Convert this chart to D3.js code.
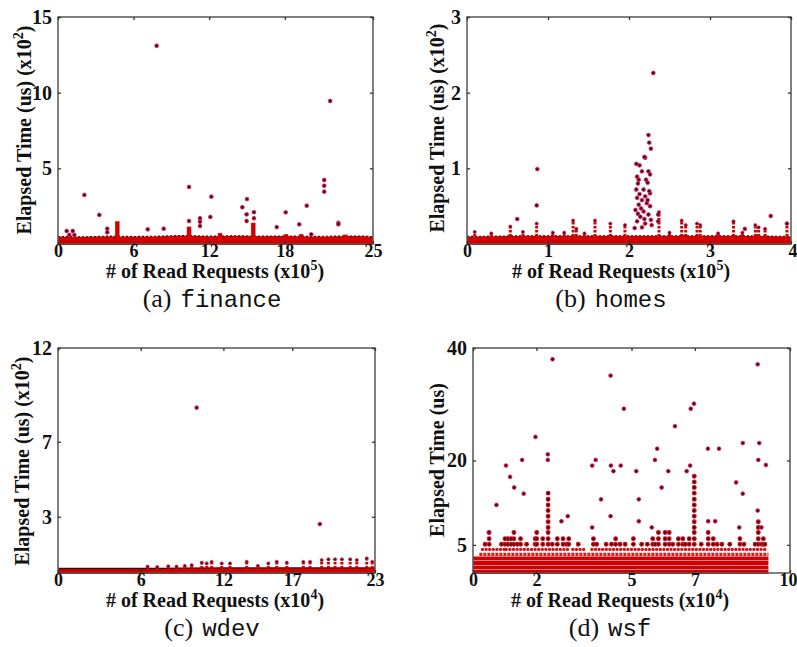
<!DOCTYPE html>
<html><head><meta charset="utf-8">
<script src="https://cdn.jsdelivr.net/npm/d3@7"></script>
<style>body{margin:0;background:#fff}svg{display:block}</style>
</head><body><svg id="c" width="797" height="647"></svg>
<script>
// ---------------- DATA ----------------
const panelNames = ["finance", "homes", "wdev", "wsf"];
const panelLetters = ["(a)", "(b)", "(c)", "(d)"];
const xLabelText = "# of Read Requests";
const yLabelText = "Elapsed Time (us)";
const xExponents = ["5", "5", "4", "4"];
const yExponents = ["2", "2", "2", null];

const xTicksFinance = [0, 6, 12, 18, 25];
const yTicksFinance = [5, 10, 15];
const xTicksHomes = [0, 1, 2, 3, 4];
const yTicksHomes = [1, 2, 3];
const xTicksWdev = [0, 6, 12, 17, 23];
const yTicksWdev = [3, 7, 12];
const xTicksWsf = [0, 2, 5, 7, 10];
const yTicksWsf = [5, 20, 40];

// finance (x10^5 requests, x10^2 us)
const financeBandX = [0, 2, 4, 6, 8, 10, 12, 14, 16, 18, 20, 22, 24, 25];
const financeBandTop = [0.50, 0.48, 0.52, 0.50, 0.52, 0.56, 0.52, 0.54, 0.52, 0.53, 0.50, 0.52, 0.53, 0.48];
const financeSpikes = [[4.71, 1.5], [10.4, 1.15], [12.86, 0.72], [15.5, 1.4], [18.1, 0.65], [19.3, 0.65], [22.8, 0.62]];
const financeOutliers = [[7.83, 13.1], [21.6, 9.45], [2.09, 3.24], [10.4, 3.77], [12.17, 3.13], [15.0, 2.97],
  [14.63, 2.43], [14.97, 1.96], [14.97, 1.52], [15.55, 2.1], [15.55, 1.7], [12.09, 1.79], [19.74, 2.53],
  [18.07, 2.09], [21.13, 4.23], [21.13, 3.85], [21.13, 3.46], [3.28, 1.92], [3.91, 1.01], [3.91, 0.77],
  [10.4, 1.52], [11.27, 1.7], [11.27, 1.47], [11.27, 1.19], [7.12, 0.97], [8.39, 1.01], [17.36, 1.12],
  [19.15, 1.3], [22.25, 1.4], [22.25, 1.3], [0.69, 0.86], [1.17, 0.86], [20.1, 0.64], [0.9, 0.6], [1.3, 0.6]];

// homes (x10^5 requests, x10^2 us)
const homesBandX = [0, 1, 2, 3, 4];
const homesBandTop = [0.10, 0.11, 0.11, 0.11, 0.10];
const homesStacks = [[0.095, 0.16], [0.3, 0.14], [0.535, 0.23], [0.69, 0.16], [0.86, 0.27], [1.06, 0.15],
  [1.2, 0.15], [1.31, 0.31], [1.35, 0.2], [1.45, 0.14], [1.58, 0.31], [1.77, 0.27], [1.95, 0.25], [2.37, 0.42],
  [2.5, 0.15], [2.65, 0.31], [2.7, 0.25], [2.84, 0.27], [2.88, 0.25], [3.1, 0.14], [3.29, 0.30], [3.4, 0.15],
  [3.56, 0.25], [3.6, 0.22], [3.68, 0.2], [3.95, 0.27]];
const homesOutliers = [[2.30, 2.26], [0.868, 0.99], [0.86, 0.51], [0.62, 0.33], [2.24, 1.44], [2.25, 1.34],
  [2.27, 1.26], [2.2, 1.14], [3.75, 0.37], [3.95, 0.27], [3.43, 0.2],
  [2.09, 1.06], [2.13, 1.04], [2.19, 1.15], [2.16, 0.96], [2.24, 0.96], [2.26, 0.92], [2.10, 0.89], [2.21, 0.85],
  [2.11, 0.80], [2.23, 0.81], [2.12, 0.85], [2.09, 0.72], [2.18, 0.72], [2.26, 0.67], [2.10, 0.61], [2.16, 0.58],
  [2.12, 0.52], [2.22, 0.54], [2.26, 0.50], [2.08, 0.45], [2.18, 0.43], [2.14, 0.36], [2.24, 0.39], [2.10, 0.30],
  [2.20, 0.27], [2.28, 0.25], [2.16, 0.22], [2.36, 0.39], [2.36, 0.30], [2.07, 0.21], [2.13, 0.66], [2.20, 0.63],
  [2.15, 0.47], [2.25, 0.70], [2.11, 0.40], [2.27, 0.32], [2.19, 0.33], [2.23, 0.58]];

// wdev (x10^4 requests, x10^2 us)
const wdevBandX = [0, 6, 9, 12, 17, 23];
const wdevBandTop = [0.24, 0.24, 0.26, 0.27, 0.27, 0.27];
const wdevStacks = [[6.5, 0.34], [7.2, 0.32], [8.0, 0.36], [8.6, 0.34], [9.2, 0.38], [9.7, 0.42], [10.43, 0.55],
  [10.79, 0.51], [11.15, 0.59], [11.88, 0.51], [12.48, 0.51], [13.69, 0.60], [14.5, 0.38], [15.26, 0.51],
  [15.87, 0.60], [16.6, 0.55], [17.8, 0.59], [18.29, 0.60], [19.13, 0.69], [19.62, 0.73], [20.1, 0.73],
  [20.6, 0.73], [21.2, 0.73], [21.68, 0.69], [22.4, 0.78], [22.8, 0.6]];
const wdevOutliers = [[10.06, 8.82], [19.0, 2.61]];

// wsf (x10^4 requests, us)
const wsfSolidRows = [0.2, 1.0, 1.8, 2.6];
const wsfLightRow = 3.3;
const wsfRowExtent = [0, 9.32];
const wsfRow4 = 4.2;
const wsfRow4Segments = [[0.3, 1.0], [1.05, 3.05], [3.15, 3.55], [3.75, 9.25]];
const wsfLevels = [5.1, 6.1, 7.2, 8.1, 9.1, 10.1, 11.1, 12.1, 13.1, 14.2, 15.2, 16.2, 17.2];
const wsfStacks = [[0.38, 5.1], [0.51, 7.2], [0.9, 5.1], [1.01, 6.1], [1.1, 6.1], [1.2, 6.1], [1.29, 7.2],
  [1.4, 5.1], [1.5, 6.1], [1.69, 5.1], [1.96, 6.1], [2.01, 7.2], [2.2, 6.1], [2.37, 14.2], [2.5, 5.1],
  [2.66, 6.1], [2.84, 6.1], [2.95, 5.1], [3.02, 6.1], [3.32, 5.1], [3.8, 6.1], [3.9, 5.1], [4.2, 5.1],
  [4.37, 5.1], [4.5, 6.1], [4.64, 5.1], [4.8, 5.1], [5.06, 6.1], [5.32, 5.1], [5.5, 5.1], [5.67, 6.1],
  [5.75, 5.1], [5.85, 7.2], [6.06, 7.2], [6.19, 7.2], [6.3, 5.1], [6.48, 6.1], [6.62, 6.1], [6.7, 5.1],
  [6.82, 6.1], [6.98, 17.2], [7.2, 5.1], [7.42, 7.2], [7.58, 6.1], [7.7, 5.1], [7.85, 5.1], [8.1, 5.1],
  [8.42, 6.1], [8.55, 5.1], [8.9, 5.1], [9.0, 9.1], [9.1, 5.1], [9.16, 6.1], [9.21, 5.1]];
const wsfOutliers = [[2.51, 38.0], [4.34, 35.1], [8.98, 37.1], [4.76, 29.2], [6.97, 30.1], [6.87, 29.2],
  [6.37, 26.1], [1.97, 24.2], [2.36, 21.1], [2.36, 20.1], [5.81, 22.1], [7.41, 22.1], [7.76, 22.1],
  [8.51, 23.1], [9.03, 23.1], [9.0, 20.1], [9.24, 19.2], [1.04, 19.1], [1.17, 17.1], [1.30, 15.2],
  [1.55, 20.1], [1.60, 14.1], [0.74, 12.1], [3.76, 19.1], [3.87, 20.1], [4.35, 19.1], [4.43, 18.1],
  [4.66, 19.1], [5.15, 18.1], [5.74, 20.1], [6.16, 18.1], [5.95, 15.2], [6.74, 18.1], [6.85, 19.1],
  [4.04, 13.1], [5.23, 13.1], [3.76, 8.1], [4.34, 10.1], [5.23, 9.2], [2.79, 9.2], [2.99, 10.1],
  [8.30, 16.1], [8.51, 14.1], [8.98, 11.1], [7.42, 9.2], [7.64, 9.2], [5.64, 8.1], [0.50, 7.2],
  [8.4, 8.1], [9.1, 8.1]];

// ---------------- DRAWING ----------------
const svg = d3.select("#c");
const RED = "#d40000";

const panels = [
  {xDomain: [0, 25], yDomain: [0, 15], xTicks: xTicksFinance, yTicks: yTicksFinance,
   box: [58, 373, 17, 244], ylab: [24, 130], xlab: [215, 278], cap: [212, 307],
   bandX: financeBandX, bandTop: financeBandTop, spikes: financeSpikes, outliers: financeOutliers},
  {xDomain: [0, 4], yDomain: [0, 3], xTicks: xTicksHomes, yTicks: yTicksHomes,
   box: [467, 791, 17, 244], ylab: [437, 128], xlab: [621, 278], cap: [611, 307],
   bandX: homesBandX, bandTop: homesBandTop, stacks: homesStacks, outliers: homesOutliers},
  {xDomain: [0, 23], yDomain: [0, 12], xTicks: xTicksWdev, yTicks: yTicksWdev,
   box: [58, 375, 348, 573], ylab: [22, 461], xlab: [215, 607], cap: [212, 636],
   bandX: wdevBandX, bandTop: wdevBandTop, stacks: wdevStacks, outliers: wdevOutliers, darkTop: true},
  {xDomain: [0, 10], yDomain: [0, 40], xTicks: xTicksWsf, yTicks: yTicksWsf,
   box: [473, 790, 348, 573], ylab: [437, 460], xlab: [620, 607], cap: [610, 636],
   wsf: true, outliers: wsfOutliers}
];

panels.forEach((p, i) => {
  const [L, R, T, B] = p.box;
  const x = d3.scaleLinear().domain(p.xDomain).range([L, R]);
  const y = d3.scaleLinear().domain(p.yDomain).range([B, T]);
  const g = svg.append("g");
  const clipId = "clip" + i;
  svg.append("clipPath").attr("id", clipId).append("rect")
    .attr("x", L).attr("y", T).attr("width", R - L).attr("height", B - T + 1);
  const d = g.append("g").attr("clip-path", `url(#${clipId})`);

  if (p.bandX) {
    const pts = p.bandX.map((v, k) => [v, p.bandTop[k]]);
    d.append("path").datum(pts)
      .attr("d", d3.area().x(e => x(e[0])).y0(B + 2).y1(e => y(e[1])).curve(d3.curveMonotoneX))
      .attr("fill", RED);
    d.append("path").datum(pts)
      .attr("d", d3.line().x(e => x(e[0])).y(e => y(e[1])).curve(d3.curveMonotoneX))
      .attr("fill", "none").attr("stroke", "#3a0a0a")
      .attr("stroke-width", p.darkTop ? 1.3 : 1.1)
      .attr("stroke-dasharray", p.darkTop ? null : "2 2");
  }
  if (p.spikes) {
    d.selectAll("rect.sp").data(p.spikes).join("rect").attr("class", "sp")
      .attr("x", e => x(e[0]) - 2.2).attr("width", 4.4)
      .attr("y", e => y(e[1])).attr("height", e => B - y(e[1]) + 2)
      .attr("fill", RED);
  }
  if (p.stacks) {
    const base = p.bandTop[0];
    d.selectAll("line.st").data(p.stacks).join("line").attr("class", "st")
      .attr("x1", e => x(e[0])).attr("x2", e => x(e[0]))
      .attr("y1", y(base)).attr("y2", e => y(e[1]))
      .attr("stroke", RED).attr("stroke-width", 3).attr("stroke-dasharray", "2.5 1.5");
    d.selectAll("circle.st").data(p.stacks).join("circle").attr("class", "st")
      .attr("cx", e => x(e[0])).attr("cy", e => y(e[1])).attr("r", 1.6)
      .attr("fill", "#5c0620").attr("stroke", "#e0284e").attr("stroke-width", 0.7);
  }
  if (p.wsf) {
    d.selectAll("line.row").data(wsfSolidRows).join("line").attr("class", "row")
      .attr("x1", x(wsfRowExtent[0])).attr("x2", x(wsfRowExtent[1]))
      .attr("y1", e => y(e)).attr("y2", e => y(e))
      .attr("stroke", RED).attr("stroke-width", 4);
    d.append("line")
      .attr("x1", x(0.2)).attr("x2", x(wsfRowExtent[1]))
      .attr("y1", y(wsfLightRow)).attr("y2", y(wsfLightRow))
      .attr("stroke", "#e01818").attr("stroke-width", 3.2).attr("stroke-dasharray", "3 1");
    d.selectAll("line.r4").data(wsfRow4Segments).join("line").attr("class", "r4")
      .attr("x1", e => x(e[0])).attr("x2", e => x(e[1]))
      .attr("y1", y(wsfRow4)).attr("y2", y(wsfRow4))
      .attr("stroke", "#d81010").attr("stroke-width", 3.4)
      .attr("stroke-linecap", "round").attr("stroke-dasharray", "0 3.6");
    const dots = wsfStacks.flatMap(s => wsfLevels.filter(l => l <= s[1] + 0.05).map(l => [s[0], l]));
    d.selectAll("circle.sd").data(dots).join("circle").attr("class", "sd")
      .attr("cx", e => x(e[0])).attr("cy", e => y(e[1])).attr("r", 1.9)
      .attr("fill", "#3a0010").attr("stroke", "#e01020").attr("stroke-width", 1.1);
  }
  d.selectAll("circle.out").data(p.outliers).join("circle").attr("class", "out")
    .attr("cx", e => x(e[0])).attr("cy", e => y(e[1])).attr("r", 1.9)
    .attr("fill", "#5c0620").attr("stroke", "#e0285a").attr("stroke-width", 0.8);

  // frame
  g.append("rect").attr("x", L).attr("y", T).attr("width", R - L).attr("height", B - T)
    .attr("fill", "none").attr("stroke", "#555").attr("stroke-width", 1.5);

  const styleAxis = (fs) => sel => {
    sel.select(".domain").remove();
    sel.selectAll(".tick line").attr("stroke", "#333").attr("stroke-width", 1.3);
    sel.selectAll("text").attr("font-family", "'Liberation Serif', serif")
      .attr("font-weight", "bold").attr("font-size", fs).attr("fill", "#111");
  };
  const bx = g.append("g").attr("transform", `translate(0,${B})`)
    .call(d3.axisBottom(x).tickValues(p.xTicks).tickSizeInner(-3).tickSizeOuter(0).tickPadding(0).tickFormat(d3.format("d")))
    .call(styleAxis(18));
  // keep the last label inside the window
  bx.selectAll(".tick text").filter((v, k, n) => x(v) + 10 > 797).attr("text-anchor", "end").attr("dx", 797 - R);
  g.append("g").attr("transform", `translate(${L},0)`)
    .call(d3.axisLeft(y).tickValues(p.yTicks).tickSizeInner(-3).tickSizeOuter(0).tickPadding(6).tickFormat(d3.format("d")))
    .call(styleAxis(20));
  g.append("g").attr("transform", `translate(0,${T})`)
    .call(d3.axisTop(x).tickValues(p.xTicks).tickSizeInner(-3).tickSizeOuter(0).tickFormat(() => ""))
    .call(styleAxis(20));
  g.append("g").attr("transform", `translate(${R},0)`)
    .call(d3.axisRight(y).tickValues(p.yTicks).tickSizeInner(-3).tickSizeOuter(0).tickFormat(() => ""))
    .call(styleAxis(20));

  // x label
  const xl = g.append("text").attr("x", p.xlab[0]).attr("y", p.xlab[1]).attr("text-anchor", "middle")
    .attr("font-family", "'Liberation Serif', serif").attr("font-weight", "bold").attr("font-size", 20).attr("fill", "#111");
  xl.append("tspan").text(xLabelText + " (x10");
  xl.append("tspan").attr("dy", -8).attr("font-size", 14).text(xExponents[i]);
  xl.append("tspan").attr("dy", 8).text(")");

  // y label
  const yl = g.append("text").attr("transform", `translate(${p.ylab[0]},${p.ylab[1]}) rotate(-90)`)
    .attr("text-anchor", "middle").attr("dy", "0.35em")
    .attr("font-family", "'Liberation Serif', serif").attr("font-weight", "bold").attr("font-size", 20).attr("fill", "#111");
  if (yExponents[i]) {
    yl.append("tspan").text(yLabelText + " (x10");
    yl.append("tspan").attr("dy", -8).attr("font-size", 14).text(yExponents[i]);
    yl.append("tspan").attr("dy", 8).text(")");
  } else {
    yl.append("tspan").text(yLabelText);
  }

  // caption
  const cp = g.append("text").attr("x", p.cap[0]).attr("y", p.cap[1]).attr("text-anchor", "middle").attr("fill", "#111");
  cp.append("tspan").attr("font-family", "'Liberation Serif', serif").attr("font-size", 26).text(panelLetters[i]);
  cp.append("tspan").attr("font-family", "'Liberation Mono', monospace").attr("font-size", 24).attr("dx", 9).text(panelNames[i]);
});
</script></body></html>
